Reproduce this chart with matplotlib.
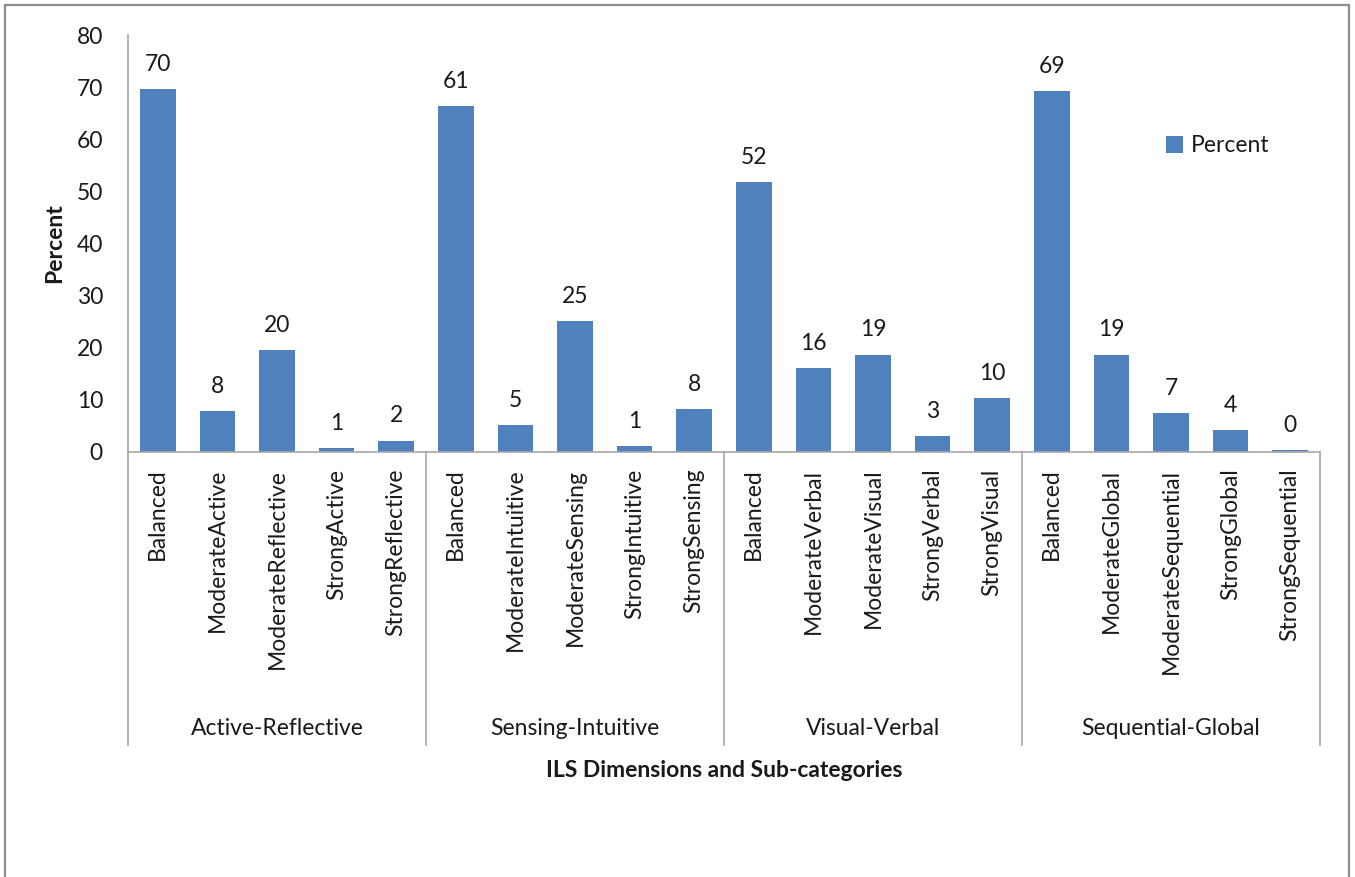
import matplotlib
matplotlib.use('Agg')
import matplotlib.pyplot as plt
from matplotlib.patches import Patch, Rectangle

plt.rcParams['font.family'] = ['Lato', 'DejaVu Sans']

# ILS dimensions and their sub-categories
groups = ['Active-Reflective', 'Sensing-Intuitive', 'Visual-Verbal', 'Sequential-Global']
categories = [
    'Balanced', 'ModerateActive', 'ModerateReflective', 'StrongActive', 'StrongReflective',
    'Balanced', 'ModerateIntuitive', 'ModerateSensing', 'StrongIntuitive', 'StrongSensing',
    'Balanced', 'ModerateVerbal', 'ModerateVisual', 'StrongVerbal', 'StrongVisual',
    'Balanced', 'ModerateGlobal', 'ModerateSequential', 'StrongGlobal', 'StrongSequential',
]
# bar heights as drawn in the picture
percent = [
    69.6, 7.9, 19.5, 0.7, 2.2,
    66.3, 5.1, 25.1, 1.2, 8.2,
    51.8, 16.2, 18.7, 3.0, 10.3,
    69.3, 18.7, 7.4, 4.2, 0.4,
]
# data labels as printed above the bars
value_labels = [
    '70', '8', '20', '1', '2',
    '61', '5', '25', '1', '8',
    '52', '16', '19', '3', '10',
    '69', '19', '7', '4', '0',
]
per_group = 5

W, H = 1355, 877
fig = plt.figure(figsize=(W / 100, H / 100), dpi=100)
# plot area in pixels: x 128..1320, y 35..452
ax = fig.add_axes([128 / W, 1 - 452 / H, (1320 - 128) / W, (452 - 35) / H])

bar_color = '#4F81BD'
axis_color = '#A6A6A6'
text_color = '#1a1a1a'
fs = 16.5

x = list(range(len(categories)))
ax.bar(x, percent, width=0.6, color=bar_color, zorder=2)

for xi, v, lab in zip(x, percent, value_labels):
    ax.annotate(lab, (xi, v), xytext=(0, 13), textcoords='offset points',
                ha='center', va='baseline', fontsize=fs, color=text_color)

ax.set_xlim(-0.5, len(categories) - 0.5)
ax.set_ylim(0, 80)
ax.set_yticks(range(0, 81, 10))
ax.tick_params(axis='y', length=0, pad=18, labelsize=fs, labelcolor=text_color)
ax.set_xticks(x)
ax.set_xticklabels(categories, rotation=90, fontsize=fs, color=text_color)
ax.tick_params(axis='x', length=0, pad=12)

for side in ['top', 'right']:
    ax.spines[side].set_visible(False)
for side in ['left', 'bottom']:
    ax.spines[side].set_color(axis_color)
    ax.spines[side].set_linewidth(1.2)

# group separators and group names below the category labels
ax_h = 452 - 35
sep_bottom = (452 - 745) / ax_h
trans = ax.get_xaxis_transform()
for g in range(len(groups) + 1):
    xb = g * per_group - 0.5
    ax.plot([xb, xb], [0, sep_bottom], color=axis_color, lw=1.2,
            transform=trans, clip_on=False)
for g, name in enumerate(groups):
    xc = g * per_group + (per_group - 1) / 2
    ax.text(xc, (452 - 729) / ax_h, name, transform=trans, ha='center', va='center',
            fontsize=fs, color=text_color)

ax.set_xlabel('ILS Dimensions and Sub-categories', fontsize=fs, fontweight='bold',
              color=text_color, va='center')
ax.xaxis.set_label_coords(0.5, (452 - 771) / ax_h)
ax.set_ylabel('Percent', fontsize=fs, fontweight='bold', color=text_color, va='center')
ax.yaxis.set_label_coords((55 - 128) / (1320 - 128), 0.5)

ax.legend(handles=[Patch(facecolor=bar_color, label='Percent')], loc='center left',
          bbox_to_anchor=(1155 / W, 1 - 146 / H), bbox_transform=fig.transFigure,
          frameon=False, fontsize=fs, borderpad=0, handlelength=0.7,
          handleheight=0.7, handletextpad=0.35, labelcolor=text_color)

# outer chart border (bottom edge falls outside the image)
fig.patches.append(Rectangle((4.5 / W, -0.02), (1349 - 4.5) / W, 1.02 - 5 / H,
                             transform=fig.transFigure, fill=False,
                             edgecolor='#8C8C8C', linewidth=1.6))

fig.savefig('out.png', dpi=100)
